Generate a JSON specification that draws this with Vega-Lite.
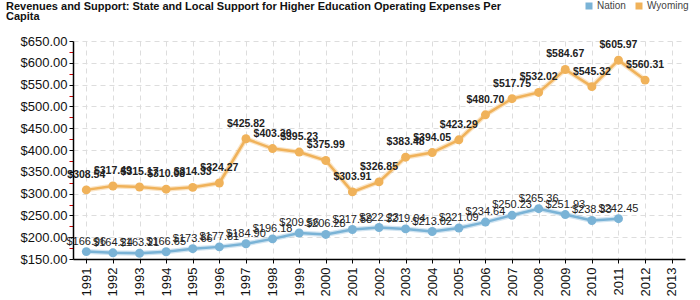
{
  "$schema": "https://vega.github.io/schema/vega-lite/v6.json",
  "width": 612,
  "height": 218,
  "autosize": {"type": "none"},
  "padding": {"left": 73, "top": 41, "right": 15, "bottom": 41},
  "background": "white",
  "config": {
    "font": "Liberation Sans",
    "view": {"stroke": null}
  },
  "title": {
    "text": ["Revenues and Support: State and Local Support for Higher Education Operating Expenses Per", "Capita"],
    "anchor": "start",
    "frame": "group",
    "dx": -67,
    "dy": 34,
    "offset": 13,
    "fontSize": 11,
    "fontWeight": "bold",
    "lineHeight": 10,
    "color": "#111"
  },
  "data": {
    "values": [
      {"year": "1991", "series": "Nation", "value": 166.96},
      {"year": "1992", "series": "Nation", "value": 164.24},
      {"year": "1993", "series": "Nation", "value": 163.21},
      {"year": "1994", "series": "Nation", "value": 166.65},
      {"year": "1995", "series": "Nation", "value": 173.66},
      {"year": "1996", "series": "Nation", "value": 177.81},
      {"year": "1997", "series": "Nation", "value": 184.90},
      {"year": "1998", "series": "Nation", "value": 196.18},
      {"year": "1999", "series": "Nation", "value": 209.56},
      {"year": "2000", "series": "Nation", "value": 206.28},
      {"year": "2001", "series": "Nation", "value": 217.58},
      {"year": "2002", "series": "Nation", "value": 222.23},
      {"year": "2003", "series": "Nation", "value": 219.04},
      {"year": "2004", "series": "Nation", "value": 213.02},
      {"year": "2005", "series": "Nation", "value": 221.09},
      {"year": "2006", "series": "Nation", "value": 234.64},
      {"year": "2007", "series": "Nation", "value": 250.23},
      {"year": "2008", "series": "Nation", "value": 265.36},
      {"year": "2009", "series": "Nation", "value": 251.93},
      {"year": "2010", "series": "Nation", "value": 238.33},
      {"year": "2011", "series": "Nation", "value": 242.45},
      {"year": "1991", "series": "Wyoming", "value": 308.54},
      {"year": "1992", "series": "Wyoming", "value": 317.49},
      {"year": "1993", "series": "Wyoming", "value": 315.17},
      {"year": "1994", "series": "Wyoming", "value": 310.08},
      {"year": "1995", "series": "Wyoming", "value": 314.33},
      {"year": "1996", "series": "Wyoming", "value": 324.27},
      {"year": "1997", "series": "Wyoming", "value": 425.82},
      {"year": "1998", "series": "Wyoming", "value": 403.30},
      {"year": "1999", "series": "Wyoming", "value": 395.23},
      {"year": "2000", "series": "Wyoming", "value": 375.99},
      {"year": "2001", "series": "Wyoming", "value": 303.91},
      {"year": "2002", "series": "Wyoming", "value": 326.85},
      {"year": "2003", "series": "Wyoming", "value": 383.48},
      {"year": "2004", "series": "Wyoming", "value": 394.05},
      {"year": "2005", "series": "Wyoming", "value": 423.29},
      {"year": "2006", "series": "Wyoming", "value": 480.70},
      {"year": "2007", "series": "Wyoming", "value": 517.75},
      {"year": "2008", "series": "Wyoming", "value": 532.02},
      {"year": "2009", "series": "Wyoming", "value": 584.67},
      {"year": "2010", "series": "Wyoming", "value": 545.32},
      {"year": "2011", "series": "Wyoming", "value": 605.97},
      {"year": "2012", "series": "Wyoming", "value": 560.31}
    ]
  },
  "encoding": {
    "x": {
      "field": "year",
      "type": "ordinal",
      "scale": {
        "type": "point",
        "padding": 0.5,
        "domain": ["1991","1992","1993","1994","1995","1996","1997","1998","1999","2000","2001","2002","2003","2004","2005","2006","2007","2008","2009","2010","2011","2012","2013"]
      },
      "axis": {
        "title": null,
        "labelAngle": -90,
        "labelFontSize": 13,
        "labelColor": "#111",
        "labelPadding": 4,
        "domainColor": "#000",
        "domainWidth": 1.5,
        "tickColor": "#000",
        "tickSize": 4,
        "grid": true,
        "gridColor": "#dddddd",
        "gridDash": [5, 4]
      }
    },
    "y": {
      "field": "value",
      "type": "quantitative",
      "scale": {"domain": [150, 650], "nice": false, "zero": false},
      "axis": {
        "title": null,
        "values": [150,175,200,225,250,275,300,325,350,375,400,425,450,475,500,525,550,575,600,625,650],
        "labelExpr": "datum.value % 50 === 0 ? format(datum.value, '$,.2f') : ''",
        "labelFontSize": 13,
        "labelColor": "#111",
        "labelPadding": 2,
        "domainColor": "#000",
        "domainWidth": 1.5,
        "tickColor": {"condition": {"test": "datum.value % 50 !== 0", "value": "#cc0000"}, "value": "#000"},
        "tickSize": 4,
        "grid": true,
        "gridColor": "#dddddd",
        "gridDash": [5, 4],
        "gridOpacity": {"condition": {"test": "datum.value % 50 !== 0", "value": 0}, "value": 1}
      }
    },
    "color": {
      "field": "series",
      "type": "nominal",
      "scale": {"domain": ["Nation", "Wyoming"], "range": ["#7ab3d6", "#f0b25a"]},
      "legend": {
        "title": null,
        "orient": "none",
        "direction": "horizontal",
        "legendX": 511,
        "legendY": -40,
        "symbolType": "square",
        "symbolSize": 49,
        "symbolStrokeWidth": 0,
        "symbolOpacity": 1,
        "labelFontSize": 10,
        "labelColor": "#444",
        "labelOffset": 3,
        "columnPadding": 8
      }
    }
  },
  "layer": [
    {
      "mark": {"type": "line", "strokeWidth": 5, "opacity": 0.35}
    },
    {
      "mark": {"type": "line", "strokeWidth": 2.5}
    },
    {
      "mark": {"type": "point", "filled": true, "opacity": 1, "size": 80}
    },
    {
      "transform": [{"filter": "datum.series === 'Nation'"}],
      "mark": {"type": "text", "dy": -10, "fontSize": 11, "color": "#222", "baseline": "middle"},
      "encoding": {"text": {"field": "value", "type": "quantitative", "format": "$,.2f"}, "color": {"value": "#222"}}
    },
    {
      "transform": [{"filter": "datum.series === 'Wyoming'"}],
      "mark": {"type": "text", "dy": -15, "fontSize": 10.5, "fontWeight": "bold", "color": "#222", "baseline": "middle"},
      "encoding": {"text": {"field": "value", "type": "quantitative", "format": "$,.2f"}, "color": {"value": "#222"}}
    }
  ]
}
